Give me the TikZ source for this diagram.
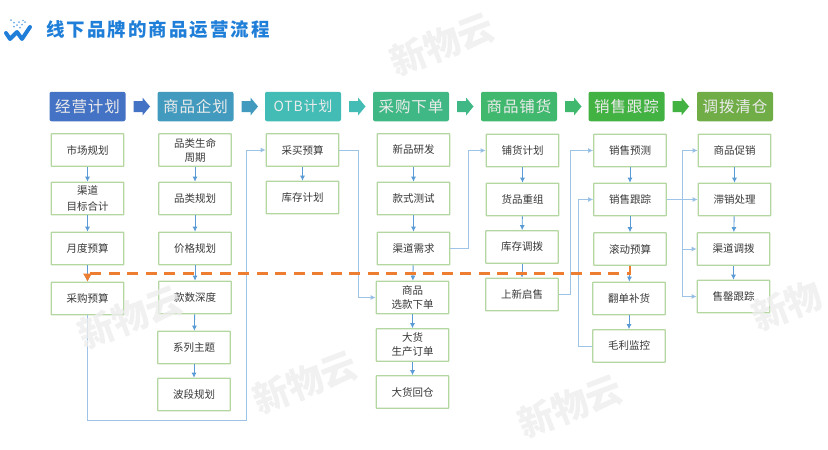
\documentclass[tikz,border=0pt]{standalone}
\usepackage{fontspec}
\usepackage{xcolor}
\usetikzlibrary{arrows.meta}
\newfontfamily\cjk{Noto Sans CJK SC}
\newfontfamily\cjktitle[LetterSpace=11]{Noto Sans CJK SC}
\newfontfamily\cjkhead[LetterSpace=6]{Noto Sans CJK SC}
\definecolor{linkblue}{HTML}{5B9BD5}
\definecolor{boxgreen}{HTML}{B4D6A0}
\definecolor{dashorange}{HTML}{ED7D31}
\definecolor{titleblue}{HTML}{1F7FD8}
\definecolor{markgray}{HTML}{EDEDED}
\definecolor{head1color}{RGB}{68,114,196}
\definecolor{head2color}{RGB}{66,155,190}
\definecolor{head3color}{RGB}{66,188,180}
\definecolor{head4color}{RGB}{64,184,134}
\definecolor{head5color}{RGB}{64,184,110}
\definecolor{head6color}{RGB}{66,178,66}
\definecolor{head7color}{RGB}{112,173,71}
\tikzset{
	headbox/.style={rounded corners=2pt,minimum width=76pt,minimum height=29.5pt,inner sep=0pt,text=white!92!black,font=\cjkhead\fontsize{15.5}{18}\selectfont},
	stepbox/.style={draw=boxgreen,line width=1.1pt,fill=white,rounded corners=0.5pt,minimum width=72.5pt,minimum height=32.5pt,inner sep=0pt,align=center,text=black!78,font=\cjk\fontsize{10.5}{14}\selectfont},
	gaparrow/.pic={\fill[pic actions] (-8,-5.5) -- (1,-5.5) -- (1,-9) -- (8.5,0) -- (1,9) -- (1,5.5) -- (-8,5.5) -- cycle;},
	flow/.style={draw=linkblue,line width=0.9pt,-{Latex[length=5pt,width=5pt]}},
	longflow/.style={draw=linkblue!60,line width=1pt,-{Latex[length=5pt,width=5pt,fill=linkblue]}},
	watermark/.style={text=markgray,text opacity=0.8,rotate=21,font=\cjk\bfseries\fontsize{36}{40}\selectfont},
}
\begin{document}
\begin{tikzpicture}[x=1pt,y=-1pt]
	\useasboundingbox (0,0) rectangle (828,450);
	% logo and title
	\draw[titleblue,line width=4pt,line cap=round,line join=round] (6,33) -- (10,39) -- (17,32) -- (22,39) -- (30,27);
	\fill[titleblue!65] (11,20) circle (1pt) (14,22.5) circle (1pt) (17,25) circle (1pt) (20,27.5) circle (1pt) (19,22) circle (1pt) (22,24.5) circle (1pt) (25,22) circle (1pt) (14,26.5) circle (1pt) (23,20.5) circle (0.8pt);
	\node[anchor=west,inner sep=0pt,text=titleblue,font=\cjktitle\bfseries\fontsize{18.5}{20}\selectfont] (title) at (46,30) {线下品牌的商品运营流程};
	% heads
	\node[headbox,fill=head1color] (head1) at (87.5,106.5) {经营计划};
	\node[headbox,fill=head2color] (head2) at (195.5,106.5) {商品企划};
	\node[headbox,fill=head3color] (head3) at (303,106.5) {\fontsize{14}{18}\selectfont OTB计划};
	\node[headbox,fill=head4color] (head4) at (411,106.5) {采购下单};
	\node[headbox,fill=head5color] (head5) at (519,106.5) {商品铺货};
	\node[headbox,fill=head6color] (head6) at (626.5,106.5) {销售跟踪};
	\node[headbox,fill=head7color] (head7) at (735,106.5) {调拨清仓};
	\pic[head1color] (gap1) at (141.5,106.5) {gaparrow};
	\pic[head2color] (gap2) at (249.5,106.5) {gaparrow};
	\pic[head3color] (gap3) at (357,106.5) {gaparrow};
	\pic[head4color] (gap4) at (465,106.5) {gaparrow};
	\pic[head5color] (gap5) at (573,106.5) {gaparrow};
	\pic[head6color] (gap6) at (680.5,106.5) {gaparrow};
	% column 1
	\node[stepbox] (plan1) at (87.5,150) {市场规划};
	\node[stepbox] (plan2) at (87.5,198.5) {渠道\\[2.5pt]目标合计};
	\node[stepbox] (plan3) at (87.5,248.5) {月度预算};
	\node[stepbox] (plan4) at (87.5,298.5) {采购预算};
	% column 2
	\node[stepbox] (goods1) at (195,150) {品类生命\\周期};
	\node[stepbox] (goods2) at (195,198.5) {品类规划};
	\node[stepbox] (goods3) at (195,248.5) {价格规划};
	\node[stepbox] (goods4) at (195,297.5) {款数深度};
	\node[stepbox] (goods5) at (194,347.5) {系列主题};
	\node[stepbox] (goods6) at (194,394.5) {波段规划};
	% column 3
	\node[stepbox] (otb1) at (302.5,150) {采买预算};
	\node[stepbox] (otb2) at (302.5,197.5) {库存计划};
	% column 4
	\node[stepbox] (buy1) at (413.5,150) {新品研发};
	\node[stepbox] (buy2) at (413.5,198.5) {款式测试};
	\node[stepbox] (buy3) at (413.5,248.5) {渠道需求};
	\node[stepbox] (buy4) at (412.5,297.5) {商品\\选款下单};
	\node[stepbox] (buy5) at (412.5,345) {大货\\生产订单};
	\node[stepbox] (buy6) at (412.5,392) {大货回仓};
	% column 5
	\node[stepbox] (lay1) at (522.5,150.5) {铺货计划};
	\node[stepbox] (lay2) at (522.5,199.5) {货品重组};
	\node[stepbox] (lay3) at (522,247) {库存调拨};
	\node[stepbox] (lay4) at (522,294.5) {上新启售};
	% column 6
	\node[stepbox] (sale1) at (630,150.5) {销售预测};
	\node[stepbox] (sale2) at (630,199.5) {销售跟踪};
	\node[stepbox] (sale3) at (630,249) {滚动预算};
	\node[stepbox] (sale4) at (629,298.5) {翻单补货};
	\node[stepbox] (sale5) at (629,346) {毛利监控};
	% column 7
	\node[stepbox] (clear1) at (734.5,150.5) {商品促销};
	\node[stepbox] (clear2) at (734.5,199.5) {滞销处理};
	\node[stepbox] (clear3) at (733.5,249) {渠道调拨};
	\node[stepbox] (clear4) at (733.5,296.5) {售罄跟踪};
	% links inside columns
	\draw[flow] (plan1) -- (plan2);
	\draw[flow] (plan2) -- (plan3);
	\draw[flow] (plan3) -- (plan4);
	\draw[flow] (goods1) -- (goods2);
	\draw[flow] (goods2) -- (goods3);
	\draw[flow] (goods3) -- (goods4);
	\draw[flow] (goods4) -- (goods5);
	\draw[flow] (goods5) -- (goods6);
	\draw[flow] (otb1) -- (otb2);
	\draw[flow] (buy1) -- (buy2);
	\draw[flow] (buy2) -- (buy3);
	\draw[flow] (buy3) -- (buy4);
	\draw[flow] (buy4) -- (buy5);
	\draw[flow] (buy5) -- (buy6);
	\draw[flow] (lay1) -- (lay2);
	\draw[flow] (lay2) -- (lay3);
	\draw[flow] (lay3) -- (lay4);
	\draw[flow] (sale1) -- (sale2);
	\draw[flow] (sale2) -- (sale3);
	\draw[flow] (sale3) -- (sale4);
	\draw[flow] (sale4) -- (sale5);
	\draw[flow] (clear1) -- (clear2);
	\draw[flow] (clear2) -- (clear3);
	\draw[flow] (clear3) -- (clear4);
	% links between columns
	\draw[longflow] (plan4.south) |- (246,420) |- (otb1.west);
	\draw[longflow] (otb1.east) -| (358,297.5) -- (buy4.west);
	\draw[longflow] (buy3.east) -| (468,150.5) -- (lay1.west);
	\draw[longflow] (lay4.east) -| (570,150.5) -- (sale1.west);
	\draw[longflow] (sale5.west) -| (578,199.5) -- (sale2.west);
	\draw[longflow] (sale2.east) -- (clear2.west);
	\draw[longflow] (682,199.5) |- (clear1.west);
	\draw[longflow] (682,199.5) |- (clear3.west);
	\draw[longflow] (682,199.5) |- (clear4.west);
	% dashed link
	\draw[dashorange,line width=2.6pt,dash pattern=on 11pt off 7.5pt,-{Latex[length=8pt,width=9.5pt]}] (sale3.south) |- (87.5,273.5) -- (plan4.north);
	% watermarks lie over the rest
	\node[watermark] (mark1) at (442,44) {新物云};
	\node[watermark] (mark2) at (130,317) {新物云};
	\node[watermark] (mark3) at (305,382) {新物云};
	\node[watermark] (mark4) at (570,406) {新物云};
	\node[watermark] (mark5) at (787,306) {新物};
\end{tikzpicture}
\end{document}
